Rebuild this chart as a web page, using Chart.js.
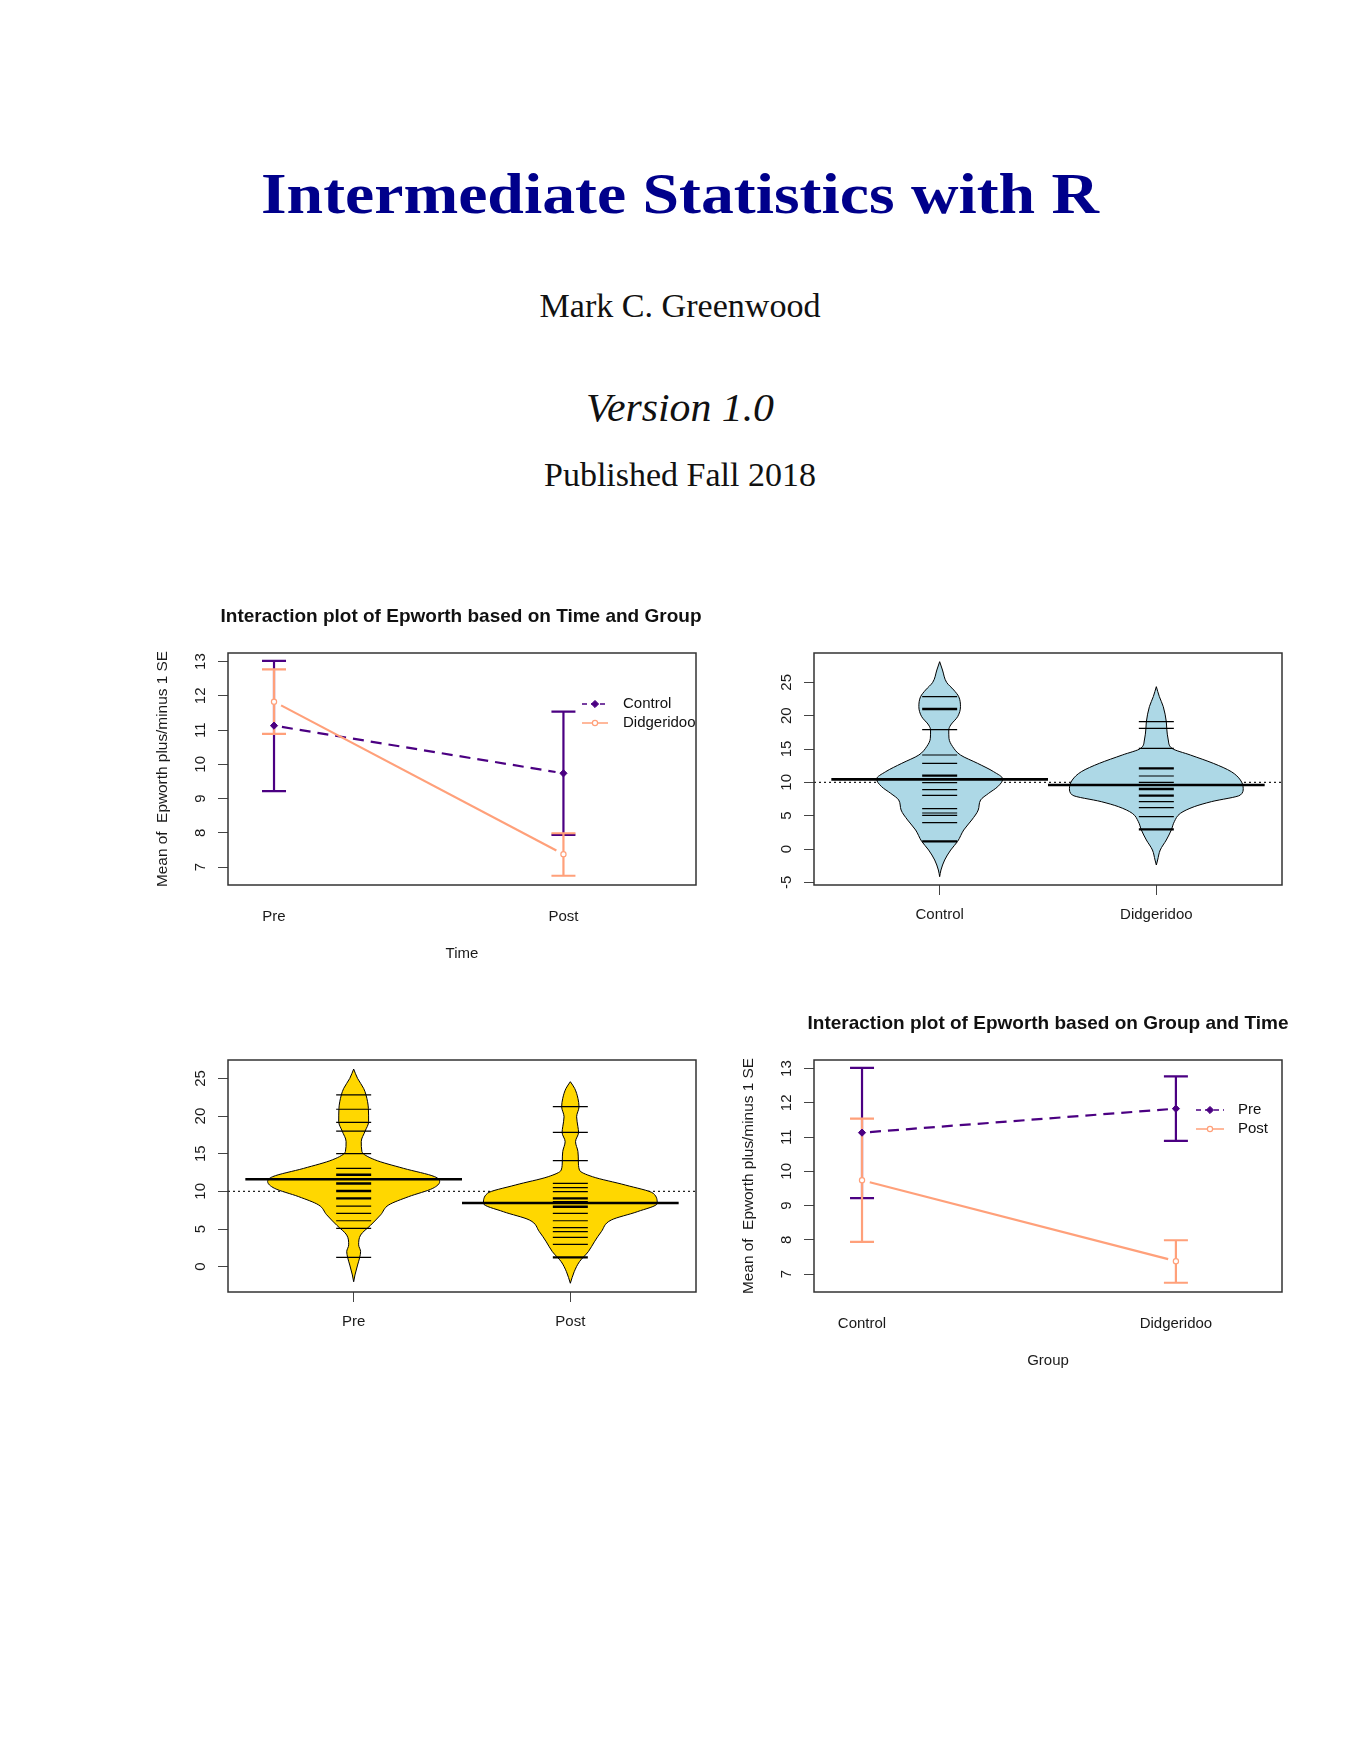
<!DOCTYPE html>
<html>
<head>
<meta charset="utf-8">
<title>Intermediate Statistics with R</title>
<script src="https://cdn.jsdelivr.net/npm/chart.js@4.4.1/dist/chart.umd.min.js"></script>
<style>
  html, body { margin: 0; padding: 0; background: #fff; overflow: hidden; }
  body { position: relative; width: 1353px; height: 1748px; }
  .cover { position: absolute; left: 680px; white-space: nowrap; line-height: 1;
           font-family: 'Liberation Serif', 'Times New Roman', serif; color: #111; }
  canvas { position: absolute; }
</style>
</head>
<body>
<div class="cover" data-w="838" style="top:165px;font-size:58px;font-weight:bold;color:#00008B">Intermediate Statistics with R</div>
<div class="cover" data-w="281" style="top:290px;font-size:32.8px">Mark C. Greenwood</div>
<div class="cover" data-w="188" style="top:388px;font-size:40px;font-style:italic">Version 1.0</div>
<div class="cover" data-w="272" style="top:459px;font-size:32.8px">Published Fall 2018</div>

<canvas id="chartTL" width="632" height="390" style="left:145px;top:590px"></canvas>
<canvas id="chartTR" width="571" height="390" style="left:731px;top:590px"></canvas>
<canvas id="chartBL" width="571" height="390" style="left:145px;top:997px"></canvas>
<canvas id="chartBR" width="634" height="390" style="left:731px;top:997px"></canvas>

<script>
// categorias
const timeLevels = ['Pre', 'Post'];
const groupLevels = ['Control', 'Didgeridoo'];

// medias de Epworth +/- 1 SE, por grupo, en Pre y Post
const meanControl = [11.13, 9.74];
const lowControl = [9.22, 7.94];
const highControl = [13.02, 11.54];
const meanDidge = [11.83, 7.38];
const lowDidge = [10.89, 6.75];
const highDidge = [12.77, 7.99];

// ticks de los ejes
const interTicks = [7, 8, 9, 10, 11, 12, 13];
const beanTicksGroup = [-5, 0, 5, 10, 15, 20, 25];
const beanTicksTime = [0, 5, 10, 15, 20, 25];

// observaciones (valores repetidos = lineas superpuestas)
const obsControl = [22.85, 21.0, 21.0, 17.9, 14.1, 12.85, 11.0, 11.0, 9.95, 8.9, 8.05, 6.05, 5.4, 5.05, 3.95, 1.15, 1.15];
const obsDidge = [19.1, 18.1, 15.1, 12.1, 12.1, 10.95, 10.0, 9.0, 9.0, 8.0, 8.0, 7.1, 6.2, 4.85, 2.95, 2.95];
const obsPre = [22.8, 20.9, 19.15, 18.0, 15.0, 13.05, 12.2, 12.2, 11.05, 11.05, 10.05, 10.05, 9.07, 9.07, 8.05, 7.08, 6.1, 5.1, 1.24];
const obsPost = [21.24, 17.83, 14.07, 11.06, 10.5, 9.96, 9.07, 9.07, 8.63, 7.96, 7.96, 7.08, 6.1, 5.18, 4.65, 3.9, 2.96, 1.24, 1.24];

const beanMeanGroup = [10.45, 9.6];
const beanMeanTime = [11.6, 8.45];
const grandMean = 10;

// contorno de los beans: altura y media anchura (unidades del eje x)
const beanYControl = [-4.15, -3.15, -1.65, -0.15, 1.15, 2.85, 4.35, 5.85, 7.35, 8.35, 9.35, 10.5, 11.6, 12.85, 14.1, 15.35, 16.6, 17.85, 18.6, 19.85, 21.35, 22.85, 23.85, 25, 26.85, 28.1];
const beanWControl = [0, 0.006, 0.023, 0.051, 0.083, 0.111, 0.148, 0.178, 0.189, 0.226, 0.268, 0.291, 0.249, 0.175, 0.096, 0.06, 0.043, 0.042, 0.051, 0.083, 0.096, 0.088, 0.065, 0.032, 0.013, 0];
const beanYDidge = [-2.4, -1.65, -0.15, 1.35, 2.85, 4.1, 5.35, 6.35, 7.1, 8.1, 9.1, 10.35, 11.6, 12.85, 14.1, 15.1, 16.35, 18.1, 19.1, 21.35, 22.85, 24.35];
const beanWDidge = [0, 0.006, 0.018, 0.046, 0.069, 0.083, 0.111, 0.175, 0.254, 0.388, 0.401, 0.388, 0.346, 0.263, 0.157, 0.072, 0.055, 0.048, 0.046, 0.032, 0.014, 0];
const beanYPre = [-2.0, -1.1, 0.22, 1.24, 2.0, 2.9, 4.2, 5.5, 6.9, 8.2, 9.3, 10.4, 11.3, 11.95, 13.05, 14.2, 15.3, 16.6, 18.0, 19.25, 21.0, 22.8, 23.67, 25, 26.24];
const beanWPre = [0, 0.006, 0.018, 0.028, 0.032, 0.023, 0.032, 0.078, 0.125, 0.162, 0.254, 0.365, 0.397, 0.374, 0.231, 0.097, 0.038, 0.035, 0.053, 0.069, 0.068, 0.057, 0.046, 0.018, 0];
const beanYPost = [-2.2, -0.66, 0.66, 2.0, 3.3, 4.65, 6.2, 7.3, 8.4, 9.73, 10.84, 11.95, 12.83, 14.07, 15.3, 16.6, 17.83, 18.58, 19.9, 21.24, 22.35, 23.67, 24.56];
const beanWPost = [0, 0.018, 0.042, 0.083, 0.111, 0.143, 0.189, 0.309, 0.401, 0.383, 0.254, 0.102, 0.042, 0.037, 0.035, 0.024, 0.038, 0.035, 0.029, 0.04, 0.035, 0.02, 0];

const purple = '#4B0082';
const salmon = '#FFA07A';

Chart.defaults.font.family = "'Liberation Sans', Arial, sans-serif";
Chart.defaults.font.size = 15;
Chart.defaults.color = '#1a1a1a';

// escalar los textos de portada al ancho del original
document.querySelectorAll('.cover').forEach(el => {
  const w = el.getBoundingClientRect().width;
  el.style.transform = 'translateX(-50%) scaleX(' + (Number(el.dataset.w) / w) + ')';
});

// caja alrededor del area del grafico (estilo R)
const boxPlugin = {
  id: 'rbox',
  afterDatasetsDraw(chart) {
    const a = chart.chartArea, ctx = chart.ctx;
    ctx.save();
    ctx.strokeStyle = '#333';
    ctx.lineWidth = 1.5;
    ctx.strokeRect(a.left, a.top, a.right - a.left, a.bottom - a.top);
    ctx.restore();
  }
};

// lineas con hueco junto a los puntos (type = "b") y barras de error
const meanBarsPlugin = {
  id: 'meanBars',
  beforeDatasetsDraw(chart) {
    const ctx = chart.ctx, ys = chart.scales.y;
    ctx.save();
    ctx.lineWidth = 2.2;
    chart.data.datasets.forEach((ds, i) => {
      const pts = chart.getDatasetMeta(i).data;
      ctx.strokeStyle = ds.borderColor;
      ctx.setLineDash(ds.dash || []);
      for (let k = 0; k < pts.length - 1; k++) {
        const p = pts[k], q = pts[k + 1];
        const dx = q.x - p.x, dy = q.y - p.y, g = 8 / Math.hypot(dx, dy);
        ctx.beginPath();
        ctx.moveTo(p.x + dx * g, p.y + dy * g);
        ctx.lineTo(q.x - dx * g, q.y - dy * g);
        ctx.stroke();
      }
    });
    ctx.setLineDash([]);
    chart.data.datasets.forEach((ds, i) => {
      const pts = chart.getDatasetMeta(i).data;
      ctx.strokeStyle = ds.borderColor;
      pts.forEach((p, k) => {
        const lo = ys.getPixelForValue(ds.low[k]);
        const hi = ys.getPixelForValue(ds.high[k]);
        ctx.beginPath();
        ctx.moveTo(p.x, lo); ctx.lineTo(p.x, hi);
        ctx.moveTo(p.x - 12, lo); ctx.lineTo(p.x + 12, lo);
        ctx.moveTo(p.x - 12, hi); ctx.lineTo(p.x + 12, hi);
        ctx.stroke();
      });
    });
    ctx.restore();
  }
};

// leyenda dentro del grafico, recortada por la caja
const legendPlugin = {
  id: 'rlegend',
  afterDatasetsDraw(chart, args, opts) {
    const a = chart.chartArea, ctx = chart.ctx;
    ctx.save();
    ctx.beginPath();
    ctx.rect(a.left, a.top, a.right - a.left, a.bottom - a.top);
    ctx.clip();
    ctx.font = "15px 'Liberation Sans', Arial, sans-serif";
    ctx.textBaseline = 'middle';
    chart.data.datasets.forEach((ds, i) => {
      const y = a.top + opts.top + i * 19;
      const x0 = a.right - opts.right;
      ctx.strokeStyle = ds.borderColor;
      ctx.lineWidth = 1.5;
      ctx.setLineDash(ds.dash ? [5, 4] : []);
      ctx.beginPath(); ctx.moveTo(x0, y); ctx.lineTo(x0 + opts.len, y); ctx.stroke();
      ctx.setLineDash([]);
      ctx.fillStyle = ds.pointBackgroundColor;
      ctx.strokeStyle = ds.pointBorderColor;
      ctx.lineWidth = ds.pointBorderWidth;
      Chart.helpers.drawPoint(ctx, { pointStyle: ds.pointStyle, radius: ds.pointRadius, rotation: 0, borderWidth: ds.pointBorderWidth }, x0 + opts.len / 2, y);
      ctx.fillStyle = '#111';
      ctx.fillText(ds.label, x0 + opts.text, y);
    });
    ctx.restore();
  }
};

const styleDashed = { borderColor: purple, dash: [11, 7], pointStyle: 'rectRot', pointRadius: 3.6, pointBackgroundColor: purple, pointBorderColor: purple, pointBorderWidth: 1, showLine: false };
const styleSolid = { borderColor: salmon, pointStyle: 'circle', pointRadius: 2.6, pointBackgroundColor: '#fff', pointBorderColor: salmon, pointBorderWidth: 1.2, showLine: false };

function toPoints(vals) {
  return vals.map((v, k) => ({ x: k + 1, y: v }));
}

function interOptions(title, xTitle, xLabels, xMin, xMax, rightW, legend) {
  return {
    responsive: false, animation: false, events: [], devicePixelRatio: 1,
    layout: { padding: 0 },
    plugins: {
      legend: { display: false },
      tooltip: { enabled: false },
      title: { display: true, text: title, color: '#111', font: { size: 19, weight: 'bold' }, padding: { top: 15, bottom: 25.2 } },
      rlegend: legend
    },
    scales: {
      x: {
        type: 'linear', min: xMin, max: xMax,
        afterBuildTicks: s => { s.ticks = xLabels.map((_, i) => ({ value: i + 1 })); },
        ticks: { callback: (v, i) => xLabels[i], padding: 15, maxRotation: 0, autoSkip: false },
        grid: { display: false },
        border: { display: false },
        title: { display: true, text: xTitle, padding: { top: 0, bottom: 17 } },
        afterFit: s => { s.height = 95; }
      },
      y: {
        min: 6.48, max: 13.25,
        afterBuildTicks: s => { s.ticks = interTicks.map(v => ({ value: v })); },
        ticks: { minRotation: 90, maxRotation: 90, crossAlign: 'center', padding: 9 },
        grid: { drawOnChartArea: false, tickLength: 10, color: '#444' },
        border: { display: false },
        title: { display: true, text: 'Mean of  Epworth plus/minus 1 SE', font: { size: 15.4 }, padding: { top: 9, bottom: 0 } },
        afterFit: s => { s.width = 83; }
      },
      yR: {
        position: 'right', display: true,
        ticks: { display: false }, grid: { display: false }, border: { display: false },
        afterFit: s => { s.width = rightW; }
      }
    }
  };
}

// Grafico 1: interaccion por tiempo
new Chart(document.getElementById('chartTL'), {
  type: 'line',
  data: {
    datasets: [
      { label: groupLevels[0], data: toPoints(meanControl), low: lowControl, high: highControl, ...styleDashed },
      { label: groupLevels[1], data: toPoints(meanDidge), low: lowDidge, high: highDidge, ...styleSolid }
    ]
  },
  options: interOptions('Interaction plot of Epworth based on Time and Group', 'Time', timeLevels, 0.841, 2.458, 81,
    { right: 114, top: 51, len: 26, text: 41 }),
  plugins: [meanBarsPlugin, boxPlugin, legendPlugin]
});

// Grafico 4: interaccion por grupo
new Chart(document.getElementById('chartBR'), {
  type: 'line',
  data: {
    datasets: [
      { label: timeLevels[0], data: toPoints([meanControl[0], meanDidge[0]]), low: [lowControl[0], lowDidge[0]], high: [highControl[0], highDidge[0]], ...styleDashed },
      { label: timeLevels[1], data: toPoints([meanControl[1], meanDidge[1]]), low: [lowControl[1], lowDidge[1]], high: [highControl[1], highDidge[1]], ...styleSolid }
    ]
  },
  options: interOptions('Interaction plot of Epworth based on Group and Time', 'Group', groupLevels, 0.847, 2.338, 83,
    { right: 86, top: 50, len: 28, text: 42 }),
  plugins: [meanBarsPlugin, boxPlugin, legendPlugin]
});

function countObs(vals) {
  const m = new Map();
  vals.forEach(v => m.set(v, (m.get(v) || 0) + 1));
  return [...m.entries()].map(([v, n]) => ({ v, n }));
}

function beanDatasets(pos, ys, ws, obs, mean, color) {
  return [
    { data: [{ x: pos - 0.5, y: mean }, { x: pos + 0.5, y: mean }], borderColor: '#000', borderWidth: 2.6, pointRadius: 0, order: 1 },
    { data: countObs(obs).map(o => ({ x: pos, y: o.v, n: o.n })), showLine: false, pointStyle: 'line', pointRadius: 17.5,
      pointBorderColor: '#000', pointBorderWidth: c => 1.2 * ((c.raw && c.raw.n) || 1), order: 2 },
    { indexAxis: 'y', data: ys.map((y, i) => ({ x: pos - ws[i], y })), borderColor: '#000', borderWidth: 1,
      backgroundColor: color, fill: '+1', pointRadius: 0, cubicInterpolationMode: 'monotone', order: 4 },
    { indexAxis: 'y', data: ys.map((y, i) => ({ x: pos + ws[i], y })), borderColor: '#000', borderWidth: 1,
      fill: false, pointRadius: 0, cubicInterpolationMode: 'monotone', order: 3 }
  ];
}

function beanOptions(xLabels, yMin, yMax, yTicks, tickPad) {
  return {
    responsive: false, animation: false, events: [], devicePixelRatio: 1,
    layout: { padding: { top: 63, right: 20, left: 0, bottom: 0 } },
    plugins: {
      legend: { display: false },
      tooltip: { enabled: false },
      filler: { drawTime: 'beforeDatasetDraw' }
    },
    scales: {
      x: {
        type: 'linear', min: 0.42, max: 2.58,
        afterBuildTicks: s => { s.ticks = xLabels.map((_, i) => ({ value: i + 1 })); },
        ticks: { callback: (v, i) => xLabels[i], padding: tickPad, maxRotation: 0, autoSkip: false },
        grid: { drawOnChartArea: false, tickLength: 10, color: '#444' },
        border: { display: false },
        afterFit: s => { s.height = 95; }
      },
      y: {
        min: yMin, max: yMax,
        afterBuildTicks: s => { s.ticks = yTicks.map(v => ({ value: v })); },
        ticks: { minRotation: 90, maxRotation: 90, crossAlign: 'center', padding: 9 },
        grid: { drawOnChartArea: false, tickLength: 10, color: '#444' },
        border: { display: false },
        afterFit: s => { s.width = 83; }
      }
    }
  };
}

function grandLine(value) {
  return { data: [{ x: 0.42, y: value }, { x: 2.58, y: value }], borderColor: '#222', borderWidth: 1.2, borderDash: [2, 3], pointRadius: 0, order: 9 };
}

// Grafico 2: beans por grupo
new Chart(document.getElementById('chartTR'), {
  type: 'line',
  data: {
    datasets: [
      ...beanDatasets(1, beanYControl, beanWControl, obsControl, beanMeanGroup[0], '#ADD8E6'),
      ...beanDatasets(2, beanYDidge, beanWDidge, obsDidge, beanMeanGroup[1], '#ADD8E6'),
      grandLine(grandMean)
    ]
  },
  options: beanOptions(groupLevels, -5.4, 29.4, beanTicksGroup, 11),
  plugins: [boxPlugin]
});

// Grafico 3: beans por tiempo
new Chart(document.getElementById('chartBL'), {
  type: 'line',
  data: {
    datasets: [
      ...beanDatasets(1, beanYPre, beanWPre, obsPre, beanMeanTime[0], '#FFD700'),
      ...beanDatasets(2, beanYPost, beanWPost, obsPost, beanMeanTime[1], '#FFD700'),
      grandLine(grandMean)
    ]
  },
  options: beanOptions(timeLevels, -3.36, 27.44, beanTicksTime, 11),
  plugins: [boxPlugin]
});
</script>
</body>
</html>
